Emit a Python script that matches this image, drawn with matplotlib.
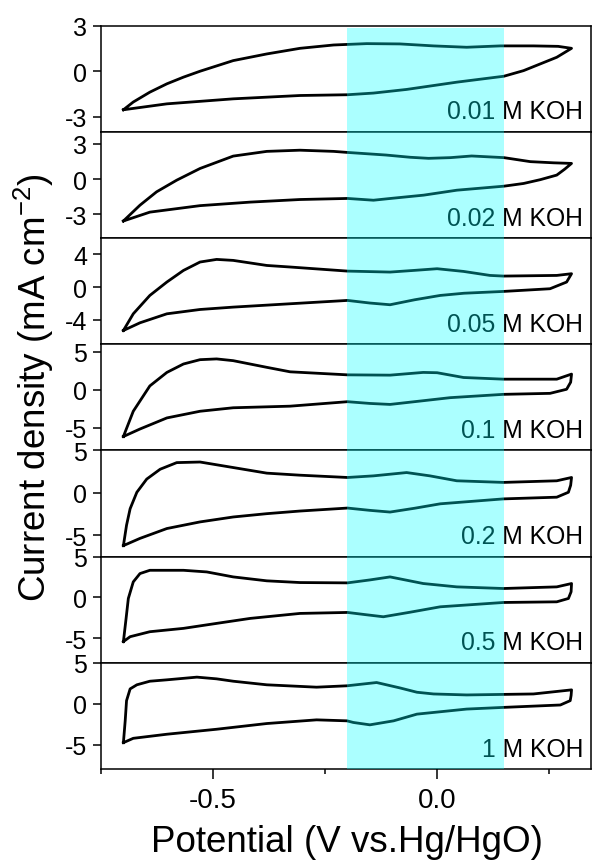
import numpy as np
import matplotlib
matplotlib.use('Agg')
import matplotlib.pyplot as plt
from matplotlib.patches import Rectangle
from matplotlib.transforms import blended_transform_factory
from matplotlib.ticker import MultipleLocator

plt.rcParams['font.family'] = ['Liberation Sans', 'DejaVu Sans']
plt.rcParams['mathtext.fontset'] = 'custom'
plt.rcParams['mathtext.rm'] = 'Liberation Sans'
plt.rcParams['mathtext.it'] = 'Liberation Sans:italic'
plt.rcParams['axes.unicode_minus'] = False

# concentrations (top to bottom)
labels = ['0.01 M KOH', '0.02 M KOH', '0.05 M KOH', '0.1 M KOH',
          '0.2 M KOH', '0.5 M KOH', '1 M KOH']

# anodic (upper) and cathodic (lower) branches: potential (V), current density (mA cm-2)
up_v_001 = [-0.700, -0.678, -0.641, -0.603, -0.566, -0.529, -0.455, -0.380, -0.306, -0.231, -0.157, -0.083, -0.008, 0.066, 0.141, 0.215, 0.270, 0.300]
up_j_001 = [-2.54, -2.03, -1.38, -0.83, -0.39, 0.00, 0.70, 1.14, 1.51, 1.73, 1.82, 1.80, 1.67, 1.58, 1.67, 1.67, 1.64, 1.51]
dn_v_001 = [0.300, 0.267, 0.193, 0.149, 0.044, -0.068, -0.142, -0.200, -0.306, -0.455, -0.603, -0.700]
dn_j_001 = [1.51, 0.92, 0.04, -0.33, -0.72, -1.20, -1.44, -1.55, -1.60, -1.82, -2.15, -2.54]

up_v_002 = [-0.700, -0.663, -0.626, -0.581, -0.529, -0.455, -0.380, -0.306, -0.231, -0.200, -0.157, -0.114, -0.060, -0.019, 0.030, 0.077, 0.149, 0.208, 0.260, 0.300]
up_j_002 = [-3.55, -2.21, -1.08, -0.09, 0.90, 1.95, 2.35, 2.45, 2.35, 2.26, 2.15, 2.04, 1.85, 1.76, 1.82, 1.96, 1.82, 1.48, 1.38, 1.33]
dn_v_002 = [0.300, 0.285, 0.267, 0.230, 0.193, 0.149, 0.044, -0.030, -0.104, -0.142, -0.200, -0.306, -0.417, -0.529, -0.641, -0.700]
dn_j_002 = [1.33, 0.85, 0.34, -0.05, -0.37, -0.60, -0.94, -1.36, -1.64, -1.79, -1.64, -1.73, -1.95, -2.25, -2.80, -3.55]

up_v_005 = [-0.700, -0.678, -0.641, -0.603, -0.566, -0.529, -0.492, -0.455, -0.380, -0.328, -0.200, -0.105, -0.050, 0.000, 0.059, 0.118, 0.148, 0.267, 0.300]
up_j_005 = [-5.31, -3.27, -1.02, 0.62, 2.04, 3.07, 3.39, 3.27, 2.65, 2.46, 1.96, 1.84, 2.05, 2.25, 1.92, 1.43, 1.35, 1.43, 1.64]
dn_v_005 = [0.300, 0.289, 0.252, 0.148, 0.060, 0.007, -0.050, -0.105, -0.150, -0.200, -0.328, -0.455, -0.529, -0.603, -0.663, -0.700]
dn_j_005 = [1.64, 0.62, -0.20, -0.53, -0.75, -1.02, -1.55, -2.16, -1.95, -1.63, -2.04, -2.45, -2.74, -3.27, -4.37, -5.31]

up_v_01 = [-0.700, -0.678, -0.641, -0.603, -0.566, -0.529, -0.492, -0.455, -0.380, -0.328, -0.200, -0.105, -0.031, 0.000, 0.059, 0.148, 0.267, 0.300]
up_j_01 = [-6.16, -2.83, 0.51, 2.29, 3.40, 3.97, 4.07, 3.84, 2.96, 2.37, 1.97, 1.93, 2.29, 2.25, 1.62, 1.40, 1.40, 2.07]
dn_v_01 = [0.300, 0.298, 0.289, 0.252, 0.148, 0.029, -0.040, -0.105, -0.150, -0.200, -0.328, -0.455, -0.529, -0.603, -0.663, -0.700]
dn_j_01 = [2.07, 1.00, 0.07, -0.47, -0.60, -1.04, -1.50, -1.93, -1.80, -1.57, -2.16, -2.37, -2.83, -3.71, -5.17, -6.16]

up_v_02 = [-0.700, -0.693, -0.685, -0.670, -0.648, -0.618, -0.581, -0.529, -0.455, -0.380, -0.306, -0.200, -0.142, -0.068, -0.016, 0.044, 0.148, 0.267, 0.300]
up_j_02 = [-6.20, -3.80, -1.86, 0.08, 1.63, 2.79, 3.57, 3.64, 2.99, 2.33, 2.09, 1.82, 2.01, 2.40, 2.01, 1.43, 1.24, 1.43, 1.82]
dn_v_02 = [0.300, 0.298, 0.293, 0.267, 0.148, 0.007, -0.050, -0.105, -0.150, -0.200, -0.306, -0.380, -0.455, -0.529, -0.603, -0.663, -0.700]
dn_j_02 = [1.82, 0.90, 0.08, -0.50, -0.70, -1.28, -1.80, -2.25, -2.05, -1.78, -2.13, -2.44, -2.83, -3.41, -4.19, -5.35, -6.20]

up_v_05 = [-0.700, -0.694, -0.689, -0.678, -0.663, -0.641, -0.566, -0.514, -0.455, -0.380, -0.306, -0.200, -0.150, -0.105, -0.031, 0.044, 0.148, 0.267, 0.300]
up_j_05 = [-5.40, -2.56, -0.12, 1.91, 2.93, 3.33, 3.33, 3.13, 2.52, 2.04, 1.83, 1.79, 2.15, 2.52, 1.71, 1.30, 1.10, 1.30, 1.71]
dn_v_05 = [0.300, 0.299, 0.293, 0.267, 0.148, 0.007, -0.060, -0.120, -0.160, -0.200, -0.306, -0.417, -0.492, -0.566, -0.641, -0.685, -0.700]
dn_j_05 = [1.71, 0.70, -0.12, -0.53, -0.61, -1.14, -1.80, -2.36, -2.10, -1.83, -1.95, -2.56, -3.17, -3.78, -4.19, -4.80, -5.40]

up_v_1 = [-0.700, -0.696, -0.693, -0.685, -0.670, -0.641, -0.603, -0.536, -0.492, -0.455, -0.380, -0.269, -0.201, -0.135, -0.083, -0.045, -0.008, 0.066, 0.215, 0.300]
up_j_1 = [-4.77, -2.10, 0.37, 1.81, 2.31, 2.75, 2.92, 3.25, 3.04, 2.75, 2.31, 2.02, 2.19, 2.59, 1.93, 1.40, 1.19, 1.07, 1.19, 1.69]
dn_v_1 = [0.300, 0.299, 0.297, 0.275, 0.150, 0.066, -0.045, -0.097, -0.150, -0.187, -0.201, -0.269, -0.380, -0.492, -0.603, -0.678, -0.700]
dn_j_1 = [1.69, 1.00, 0.37, -0.16, -0.45, -0.66, -1.28, -2.10, -2.59, -2.30, -2.10, -1.98, -2.43, -3.13, -3.74, -4.24, -4.77]

up_v = [up_v_001, up_v_002, up_v_005, up_v_01, up_v_02, up_v_05, up_v_1]
up_j = [up_j_001, up_j_002, up_j_005, up_j_01, up_j_02, up_j_05, up_j_1]
dn_v = [dn_v_001, dn_v_002, dn_v_005, dn_v_01, dn_v_02, dn_v_05, dn_v_1]
dn_j = [dn_j_001, dn_j_002, dn_j_005, dn_j_01, dn_j_02, dn_j_05, dn_j_1]

# y ranges and ticks per panel
ylims = [(-4, 3), (-5, 4), (-7, 6), (-8, 6), (-7.5, 5), (-8, 5), (-8, 5)]
yticks = [[-3, 0, 3], [-3, 0, 3], [-4, 0, 4], [-5, 0, 5], [-5, 0, 5], [-5, 0, 5], [-5, 0, 5]]

# highlighted potential window
win_lo, win_hi = -0.2, 0.15

fig, axes = plt.subplots(7, 1, sharex=True, figsize=(5.92, 8.62), dpi=100)
fig.subplots_adjust(left=0.1706, right=0.998, top=0.969, bottom=0.1067, hspace=0)

for i, ax in enumerate(axes):
    v = list(up_v[i]) + list(dn_v[i])
    j = list(up_j[i]) + list(dn_j[i])
    ax.plot(v, j, color='black', lw=2.0, solid_joinstyle='round')
    ax.set_ylim(*ylims[i])
    ax.set_yticks(yticks[i])
    ax.tick_params(axis='y', direction='out', length=6, width=1.1, labelsize=18, pad=4)
    ax.tick_params(axis='x', which='both', bottom=(i == 6), labelbottom=(i == 6))
    for s in ax.spines.values():
        s.set_linewidth(1.1)
    ax.text(0.984, 0.127, labels[i], transform=ax.transAxes, ha='right',
            va='baseline', fontsize=17.8)

ax = axes[-1]
ax.set_xlim(-0.75, 0.343)
ax.set_xticks([-0.5, 0.0])
ax.xaxis.set_minor_locator(MultipleLocator(0.25))
ax.tick_params(axis='x', which='major', direction='out', length=7, width=1.1, labelsize=20, pad=6)
ax.tick_params(axis='x', which='minor', direction='out', length=3.5, width=1.1)
ax.set_xticklabels(['-0.5', '0.0'])

fig.text(0.586, 0.0116, 'Potential (V vs.Hg/HgO)', ha='center', va='baseline', fontsize=26.5)
fig.text(0.058, 0.55, 'Current density (mA cm$^{-2}$)', rotation=90, ha='center',
         va='center', fontsize=26.5)

trans = blended_transform_factory(ax.transData, fig.transFigure)
fig.patches.append(Rectangle((win_lo, 0.1067), win_hi - win_lo, 0.966 - 0.1067,
                             transform=trans, facecolor='#00ffff', alpha=0.33,
                             edgecolor='none', zorder=5))

fig.savefig('out.png', dpi=100)
